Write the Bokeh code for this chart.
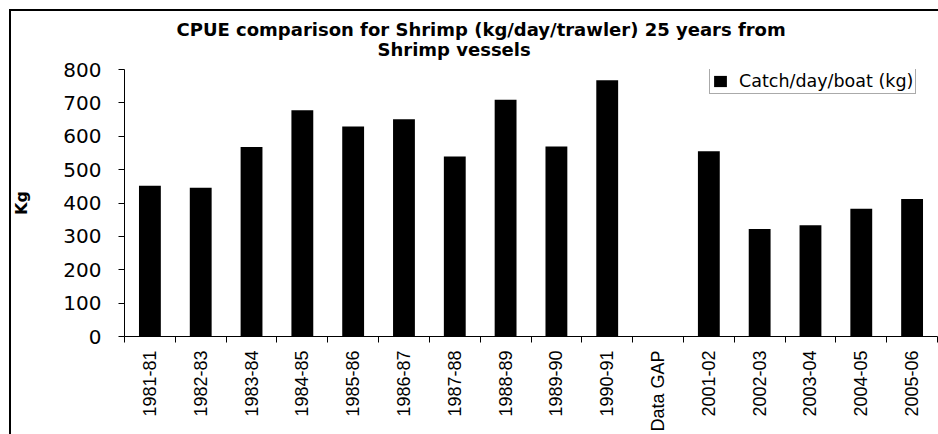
import math
import numpy as np
from bokeh.plotting import figure
from bokeh.models import (Title, FixedTicker, Legend, LegendItem,
                          ColumnDataSource, Range1d, InlineStyleSheet)
from bokeh.embed import file_html
from bokeh.resources import INLINE

# Shrimp CPUE per season (kg per day per boat); no record for the gap years
seasons = ["1981-81", "1982-83", "1983-84", "1984-85", "1985-86", "1986-87",
           "1987-88", "1988-89", "1989-90", "1990-91", "Data GAP", "2001-02",
           "2002-03", "2003-04", "2004-05", "2005-06"]
catch_per_day = [452, 446, 568, 678, 629, 651, 539, 709, 569, 768,
                 float("nan"), 555, 322, 333, 383, 412]
y_ticks = [0, 100, 200, 300, 400, 500, 600, 700, 800]

n = len(seasons)
centers = np.arange(n) + 0.5
bounds = np.arange(n + 1)

src = ColumnDataSource(dict(x=centers, top=catch_per_day, season=seasons))

p = figure(width=938, height=434, output_backend="svg", toolbar_location=None,
           title=None, x_range=Range1d(0, n), y_range=Range1d(0, 800),
           min_border_left=124, min_border_right=1, min_border_top=69,
           min_border_bottom=94)
p.outline_line_color = None
p.grid.visible = False
p.background_fill_color = "white"
p.border_fill_alpha = 0

# frame line around the whole chart (runs past the right and bottom edges)
p.stylesheets = [InlineStyleSheet(css="""
:host {
  background:
    linear-gradient(#000, #000) 9px 9px / 2px 100% no-repeat,
    linear-gradient(#000, #000) 9px 9px / 100% 2px no-repeat,
    #fff;
}
""")]

bars = p.vbar(x="x", top="top", width=0.43, source=src,
              fill_color="black", line_color=None)

# x axis: season names centred on bars, small ticks between categories
xa = p.xaxis[0]
xa.ticker = FixedTicker(ticks=list(centers), minor_ticks=list(bounds))
xa.major_label_overrides = {float(c): s for c, s in zip(centers, seasons)}
xa.major_label_orientation = math.pi / 2
xa.major_tick_line_color = None
xa.minor_tick_line_color = "black"
xa.minor_tick_in = 0
xa.minor_tick_out = 6
xa.axis_line_color = "black"
xa.major_label_text_font = "Liberation Sans"
xa.major_label_text_font_size = "18px"
xa.major_label_text_color = "black"
xa.major_label_standoff = 8

ya = p.yaxis[0]
ya.ticker = FixedTicker(ticks=y_ticks)
ya.minor_tick_line_color = None
ya.major_tick_in = 0
ya.major_tick_out = 6
ya.axis_line_color = "black"
ya.major_tick_line_color = "black"
ya.major_label_text_font = "DejaVu Sans"
ya.major_label_text_font_size = "20px"
ya.major_label_text_color = "black"
ya.major_label_standoff = 17
ya.axis_label = "Kg"
ya.axis_label_text_font = "DejaVu Sans"
ya.axis_label_text_font_style = "bold"
ya.axis_label_text_font_size = "16px"
ya.axis_label_text_color = "black"
ya.axis_label_standoff = 29

legend = Legend(items=[LegendItem(label="Catch/day/boat (kg)", renderers=[bars])],
                location=(585, 242), padding=2, margin=0, spacing=0,
                glyph_width=16, glyph_height=14, label_standoff=11,
                label_text_font="DejaVu Sans", label_text_font_size="17.5px",
                label_text_color="black", border_line_color="#555555",
                border_line_width=1, background_fill_color="white")
p.add_layout(legend)

# two-line title, lower line added first so it sits next to the plot
for txt, shift, gap in [("Shrimp vessels", 253, 20),
                        ("CPUE comparison for Shrimp (kg/day/trawler) 25 years from", 52, -26)]:
    p.add_layout(Title(text=txt, align="left", offset=shift,
                       text_font="DejaVu Sans", text_font_style="bold",
                       text_font_size="18px", text_color="black",
                       standoff=gap), "above")

open("out.html", "w").write(file_html(p, INLINE))
